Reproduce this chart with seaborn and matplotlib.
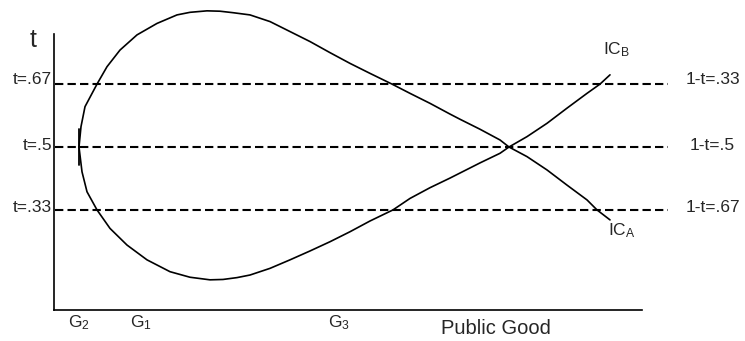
import numpy as np
import pandas as pd
import matplotlib
matplotlib.use("Agg")
import matplotlib.pyplot as plt
import seaborn as sns
from matplotlib import font_manager as fm

# ---- data (x: public good quantity, y: tax share t) ----
ic_a_x = [25, 27, 31, 43, 53, 66, 83, 103, 123, 136, 153, 166, 179, 196, 216, 236, 256, 276, 296, 316,
          338, 356, 376, 396, 406, 426, 446, 455, 473, 493, 513, 533, 543, 556]
ic_a_t = [0.500, 0.555, 0.609, 0.670, 0.717, 0.762, 0.803, 0.834, 0.857, 0.864, 0.868, 0.867, 0.863, 0.857,
          0.839, 0.812, 0.785, 0.755, 0.726, 0.699, 0.670, 0.645, 0.618, 0.589, 0.575, 0.548,
          0.519, 0.500, 0.474, 0.438, 0.397, 0.357, 0.330, 0.303]
ic_b_x = [25, 28, 33, 43, 56, 73, 93, 116, 136, 156, 169, 183, 196, 216, 236, 256, 276, 296, 316,
          339, 356, 376, 396, 426, 446, 455, 473, 493, 513, 533, 546, 556]
ic_b_t = [0.500, 0.433, 0.379, 0.330, 0.280, 0.235, 0.195, 0.163, 0.148, 0.141, 0.142, 0.147, 0.154, 0.172,
          0.195, 0.219, 0.244, 0.271, 0.300, 0.330, 0.361, 0.390, 0.416, 0.457, 0.483, 0.500,
          0.528, 0.564, 0.605, 0.645, 0.670, 0.695]
t_levels = [0.67, 0.5, 0.33]
t_labels = ["t=.67", "t=.5", "t=.33"]
one_minus_labels = ["1-t=.33", "1-t=.5", "1-t=.67"]
g_labels = [r"G$_\mathrm{2}$", r"G$_\mathrm{1}$", r"G$_\mathrm{3}$"]
ic_labels = [r"IC$_\mathrm{B}$", r"IC$_\mathrm{A}$"]

W, H = 745, 341
sns.set_style("white")
names = {f.name for f in fm.fontManager.ttflist}
base = "Liberation Sans" if "Liberation Sans" in names else "DejaVu Sans"
plt.rcParams["font.family"] = [base, "DejaVu Sans"]
plt.rcParams["mathtext.fontset"] = "custom"
plt.rcParams["mathtext.rm"] = base
plt.rcParams["mathtext.it"] = base

fig = plt.figure(figsize=(W / 100, H / 100), dpi=100)
ax = fig.add_axes([54 / W, 1 - 310 / H, (642 - 54) / W, (310 - 34) / H])

df = pd.concat([
    pd.DataFrame({"x": ic_a_x, "t": ic_a_t, "curve": "A"}),
    pd.DataFrame({"x": ic_b_x, "t": ic_b_t, "curve": "B"}),
])
sns.lineplot(data=df, x="x", y="t", units="curve", estimator=None, sort=False,
             color="black", lw=1.2, ax=ax, clip_on=False, solid_joinstyle="round")

for lv in t_levels:
    ax.plot([1, 614], [lv, lv], color="black", lw=1.5, ls=(0, (4, 2)), clip_on=False)
ax.plot([25, 25], [0.451, 0.549], color="black", lw=1.3, clip_on=False)

ax.set_xlim(0, 588)
ax.set_ylim(0.5 - 163 / 370, 0.5 + 113 / 370)
ax.set_xticks([])
ax.set_yticks([])
ax.set_xlabel("")
ax.set_ylabel("")
for s in ["top", "right"]:
    ax.spines[s].set_visible(False)
for s in ["left", "bottom"]:
    ax.spines[s].set_color("black")
    ax.spines[s].set_linewidth(1.2)

def px(x, y):
    return x / W, 1 - y / H

fs = 12.5
fig.text(*px(33, 40), "t", fontsize=18, ha="center", va="center")
for lab, y in zip(t_labels, [80, 145, 207]):
    fig.text(*px(52, y), lab, fontsize=fs, ha="right", va="center")
for lab, x, y in zip(one_minus_labels, [686, 690, 686], [80, 145, 207]):
    fig.text(*px(x, y), lab, fontsize=fs, ha="left", va="center")
fig.text(*px(603, 50), ic_labels[0], fontsize=fs, ha="left", va="center")
fig.text(*px(608, 231), ic_labels[1], fontsize=fs, ha="left", va="center")
for lab, x in zip(g_labels, [79, 141, 339]):
    fig.text(*px(x, 323), lab, fontsize=fs, ha="center", va="center")
fig.text(*px(496, 328), "Public Good", fontsize=14.5, ha="center", va="center")

fig.savefig("out.png", dpi=100)
